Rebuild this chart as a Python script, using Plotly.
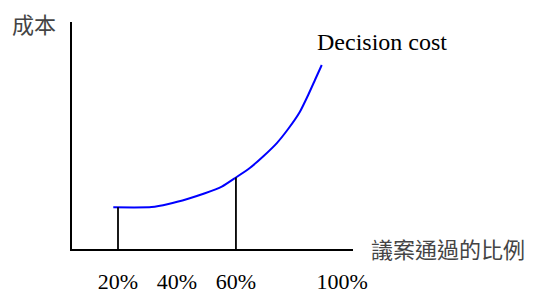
import plotly.graph_objects as go

# Decision cost curve (x: share of motions passed, %, y: cost, arbitrary units)
curve_pct = [18.4, 31.4, 37.1, 43.8, 49.5, 55.2, 60.0, 64.7, 69.3, 73.8, 77.7, 81.7, 84.5, 86.8, 89.1]
curve_cost = [41.7, 41.9, 45.0, 50.3, 55.7, 62.3, 71.5, 81.0, 92.8, 105.7, 120.0, 137.3, 154.0, 169.0, 184.0]

# Vertical reference lines
marker_pct = [20, 60]
marker_cost = [41.7, 71.5]

# Tick labels
tick_pos = [20, 40, 60, 96]
tick_text = ["20%", "40%", "60%", "100%"]

series_label = "Decision cost"
y_title = "成本"
x_title = "議案通過的比例"

fig = go.Figure()
fig.add_trace(go.Scatter(x=curve_pct, y=curve_cost, mode="lines",
                         line=dict(color="#0000ff", width=2, shape="spline", smoothing=0.5),
                         hoverinfo="skip"))
for p, c in zip(marker_pct, marker_cost):
    fig.add_trace(go.Scatter(x=[p, p], y=[0, c], mode="lines",
                             line=dict(color="black", width=1.8), hoverinfo="skip"))

fig.update_layout(
    width=529, height=287,
    margin=dict(l=64, r=184, t=14, b=46, autoexpand=False),
    paper_bgcolor="white", plot_bgcolor="white",
    showlegend=False,
    xaxis=dict(range=[4.4, 99.7], showgrid=False, zeroline=False, automargin=False,
               showline=True, linecolor="black", linewidth=2,
               tickvals=tick_pos, ticktext=tick_text, ticks="outside",
               ticklen=12, tickcolor="rgba(0,0,0,0)",
               tickfont=dict(family="Liberation Serif", size=22, color="black")),
    yaxis=dict(range=[0, 227], showgrid=False, zeroline=False, automargin=False,
               showline=True, linecolor="black", linewidth=2,
               showticklabels=False, ticks=""),
    annotations=[
        dict(text=y_title, xref="paper", yref="paper", x=-0.2206, y=0.9956,
             xanchor="left", yanchor="middle", showarrow=False,
             font=dict(family="Noto Sans CJK TC", size=22, color="#444")),
        dict(text=x_title, xref="paper", yref="paper", x=1.058, y=0.0066,
             xanchor="left", yanchor="middle", showarrow=False,
             font=dict(family="Noto Sans CJK TC", size=22, color="#444")),
        dict(text=series_label, xref="paper", yref="paper", x=0.8648, y=0.912,
             xanchor="left", yanchor="middle", showarrow=False,
             font=dict(family="Liberation Serif", size=24, color="black")),
    ],
)

fig.write_html("out.html")
